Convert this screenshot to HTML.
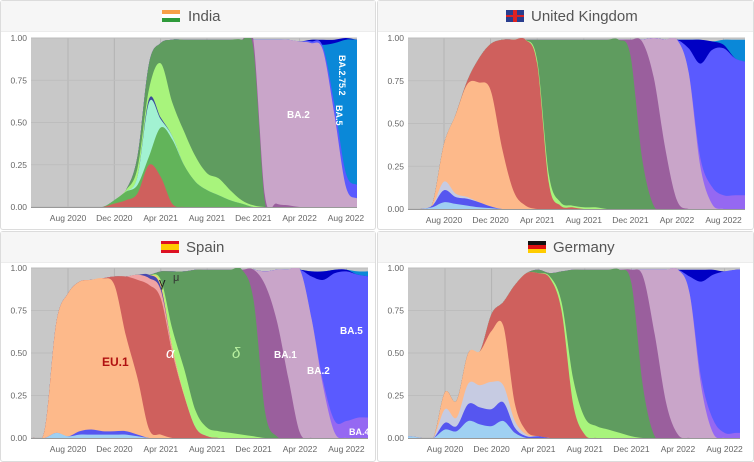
<!DOCTYPE html>
<html><head><meta charset="utf-8">
<style>
html,body{margin:0;padding:0;background:#fff;}
body{width:754px;height:462px;position:relative;overflow:hidden;font-family:"Liberation Sans",sans-serif;}
.card{position:absolute;background:#fff;border:1px solid #dcdcdc;border-radius:3px;box-sizing:border-box;}
.hdr{position:absolute;left:0;right:0;top:0;height:30px;background:#f6f6f6;border-bottom:1px solid #ececec;}
.ttl{position:absolute;top:7px;font-size:15px;color:#555;white-space:nowrap;}
.flag{position:absolute;top:9px;width:18px;height:12px;}
svg{position:absolute;left:0;top:0;}
</style></head>
<body>
<div class="card" style="left:0;top:0;width:376px;height:230px;">
 <div class="hdr">
  <div class="flag" style="left:161px;background:linear-gradient(#f7a047 0 33%,#fff 33% 66%,#2e9a3a 66%);"></div>
  <div class="ttl" style="left:187px;">India</div>
 </div>
</div>
<div class="card" style="left:377px;top:0;width:377px;height:230px;">
 <div class="hdr">
  <div class="flag" style="left:128px;background:linear-gradient(#2a3e8e 0 40%,#d22 40% 60%,#2a3e8e 60%);"><div style="position:absolute;left:7px;top:0;width:4px;height:12px;background:#d22;"></div></div>
  <div class="ttl" style="left:153px;">United Kingdom</div>
 </div>
</div>
<div class="card" style="left:0;top:231px;width:376px;height:231px;">
 <div class="hdr">
  <div class="flag" style="left:160px;background:linear-gradient(#d12 0 25%,#fc0 25% 75%,#d12 75%);"></div>
  <div class="ttl" style="left:185px;">Spain</div>
 </div>
</div>
<div class="card" style="left:377px;top:231px;width:377px;height:231px;">
 <div class="hdr">
  <div class="flag" style="left:150px;background:linear-gradient(#111 0 33%,#d11 33% 66%,#fc0 66%);"></div>
  <div class="ttl" style="left:175px;">Germany</div>
 </div>
</div>
<svg id="chart" width="754" height="462"></svg>
<script>
// months since Jan 2020
const months = [3,4,5,6,7,8,9,10,11,12,13,14,15,16,17,18,19,20,21,22,23,24,25,26,27,28,29,30,31,32,33];
const tickMonths = [7,11,15,19,23,27,31];
const tickLabels = ["Aug 2020","Dec 2020","Apr 2021","Aug 2021","Dec 2021","Apr 2022","Aug 2022"];
const yTicks = [0,0.25,0.5,0.75,1];
const yTickLabels = ["0.00","0.25","0.50","0.75","1.00"];

// India
const inRed   = [0,0,0,0,0,0,0,0,.02,.04,.08,.25,.18,.02,0,0,0,0,0,0,0,0,0,0,0,0,0,0,0,0,0];
const inKappa = [0,0,0,0,0,0,0,0,.02,.05,.05,.05,.29,.38,.25,.15,.1,.07,.04,.02,0,0,0,0,0,0,0,0,0,0,0];
const inMint  = [0,0,0,0,0,0,0,0,0,0,.05,.32,.05,.02,0,0,0,0,0,0,0,0,0,0,0,0,0,0,0,0,0];
const inNavy  = [0,0,0,0,0,0,0,0,0,0,0,.02,.01,0,0,0,0,0,0,0,0,0,0,0,0,0,0,0,0,0,0];
const inLG    = [0,0,0,0,0,0,0,0,0,.01,.05,.06,.32,.2,.2,.15,.1,.1,.06,.02,.01,0,0,0,0,0,0,0,0,0,0];
const inDelta = [0,0,0,0,0,0,0,0,0,0,.07,.15,.12,.37,.54,.69,.79,.82,.89,.95,.93,.03,0,0,0,0,0,0,0,0,0];
const inBA1   = [0,0,0,0,0,0,0,0,0,0,0,0,0,0,0,0,0,0,0,0,.05,.04,.02,.01,0,0,0,0,0,0,0];
const inBA2   = [0,0,0,0,0,0,0,0,0,0,0,0,0,0,0,0,0,0,0,0,0,.92,.97,.98,.98,.97,.93,.55,.12,.05,.03];
const inBA5   = [0,0,0,0,0,0,0,0,0,0,0,0,0,0,0,0,0,0,0,0,0,0,0,0,0,.01,.02,.06,.08,.08,.08];
const inBA275 = [0,0,0,0,0,0,0,0,0,0,0,0,0,0,0,0,0,0,0,0,0,0,0,0,0,0,.01,.36,.79,.86,.88];
const inDark  = [0,0,0,0,0,0,0,0,0,0,0,0,0,0,0,0,0,0,0,0,0,0,0,0,0,.01,.03,.02,.01,0,0];

// United Kingdom
const ukLB    = [0,0,0,.01,.04,.03,.02,.01,.005,0,0,0,0,0,0,0,0,0,0,0,0,0,0,0,0,0,0,0,0,0,0];
const ukMB    = [0,0,0,.01,.07,.04,.04,.03,.01,0,0,0,0,0,0,0,0,0,0,0,0,0,0,0,0,0,0,0,0,0,0];
const ukLGB   = [0,0,0,0,.05,.02,.01,0,0,0,0,0,0,0,0,0,0,0,0,0,0,0,0,0,0,0,0,0,0,0,0];
const ukPeach = [0,0,0,.01,.22,.46,.66,.7,.68,.35,.1,.02,0,0,0,0,0,0,0,0,0,0,0,0,0,0,0,0,0,0,0];
const ukRed   = [0,0,0,0,0,0,.02,.14,.27,.64,.89,.97,.85,.15,.02,.01,0,0,0,0,0,0,0,0,0,0,0,0,0,0,0];
const ukLG    = [0,0,0,0,0,0,0,0,0,0,0,0,.02,.05,.02,.01,.01,.01,0,0,0,0,0,0,0,0,0,0,0,0,0];
const ukDelta = [0,0,0,0,0,0,0,0,0,0,0,0,.12,.79,.95,.97,.98,.98,.99,.99,.9,.3,.02,0,0,0,0,0,0,0,0];
const ukBA1   = [0,0,0,0,0,0,0,0,0,0,0,0,0,0,0,0,0,0,0,0,.09,.68,.75,.35,.05,0,0,0,0,0,0];
const ukBA2   = [0,0,0,0,0,0,0,0,0,0,0,0,0,0,0,0,0,0,0,0,0,.01,.23,.64,.94,.8,.25,.03,0,0,0];
const ukBA4   = [0,0,0,0,0,0,0,0,0,0,0,0,0,0,0,0,0,0,0,0,0,0,0,0,0,0,.05,.1,.08,.08,.08];
const ukBA5   = [0,0,0,0,0,0,0,0,0,0,0,0,0,0,0,0,0,0,0,0,0,0,0,0,0,.14,.55,.8,.86,.8,.78];
const ukDark  = [0,0,0,0,0,0,0,0,0,0,0,0,0,0,0,0,0,0,0,0,0,0,0,0,0,.05,.14,.05,.02,0,0];
const ukBA275 = [0,0,0,0,0,0,0,0,0,0,0,0,0,0,0,0,0,0,0,0,0,0,0,0,0,0,0,0,.03,.11,.13];

// Spain
const esLB    = [0,0,0,.03,.01,.02,.02,.02,.02,.02,.01,0,0,0,0,0,0,0,0,0,0,0,0,0,0,0,0,0,0,0,0];
const esMB    = [0,0,0,0,0,.02,.03,.02,.02,.02,.01,0,0,0,0,0,0,0,0,0,0,0,0,0,0,0,0,0,0,0,0];
const esPeach = [0,0,.05,.65,.84,.88,.88,.9,.86,.56,.33,.05,.02,0,0,0,0,0,0,0,0,0,0,0,0,0,0,0,0,0,0];
const esRed   = [0,0,0,0,0,0,0,0,.05,.35,.58,.85,.8,.5,.25,.06,.01,0,0,0,0,0,0,0,0,0,0,0,0,0,0];
const esPink  = [0,0,0,0,0,0,0,0,0,0,.03,.04,.05,.02,0,0,0,0,0,0,0,0,0,0,0,0,0,0,0,0,0];
const esGamma = [0,0,0,0,0,0,0,0,0,0,0,.02,.02,0,0,0,0,0,0,0,0,0,0,0,0,0,0,0,0,0,0];
const esMu    = [0,0,0,0,0,0,0,0,0,0,0,0,.02,.02,.01,0,0,0,0,0,0,0,0,0,0,0,0,0,0,0,0];
const esLG    = [0,0,0,0,0,0,0,0,0,0,0,0,.02,.1,.15,.1,.05,.04,.03,.02,.01,0,0,0,0,0,0,0,0,0,0];
const esDelta = [0,0,0,0,0,0,0,0,0,0,0,0,.05,.34,.57,.83,.93,.95,.96,.97,.8,.15,.01,0,0,0,0,0,0,0,0];
const esBA1   = [0,0,0,0,0,0,0,0,0,0,0,0,0,0,0,0,0,0,0,0,.18,.75,.68,.35,.03,0,0,0,0,0,0];
const esBA2   = [0,0,0,0,0,0,0,0,0,0,0,0,0,0,0,0,0,0,0,0,0,.08,.3,.64,.96,.7,.3,.03,0,0,0];
const esBA4   = [0,0,0,0,0,0,0,0,0,0,0,0,0,0,0,0,0,0,0,0,0,0,0,0,0,0,.03,.07,.1,.12,.12];
const esBA5   = [0,0,0,0,0,0,0,0,0,0,0,0,0,0,0,0,0,0,0,0,0,0,0,0,0,.25,.6,.87,.88,.84,.83];
const esDark  = [0,0,0,0,0,0,0,0,0,0,0,0,0,0,0,0,0,0,0,0,0,0,0,0,0,.03,.05,.02,.01,0,0];
const esBA275 = [0,0,0,0,0,0,0,0,0,0,0,0,0,0,0,0,0,0,0,0,0,0,0,0,0,0,0,0,0,.02,.03];

// Germany
const deLB    = [0,.01,0,0,.05,.04,.1,.08,.07,.1,.03,0,0,0,0,0,0,0,0,0,0,0,0,0,0,0,0,0,0,0,0];
const deMB    = [0,0,0,0,.04,.03,.1,.1,.1,.11,.03,.01,.01,0,0,0,0,0,0,0,0,0,0,0,0,0,0,0,0,0,0];
const deLGB   = [0,0,0,0,.08,.05,.12,.13,.16,.1,.04,.01,0,0,0,0,0,0,0,0,0,0,0,0,0,0,0,0,0,0,0];
const dePeach = [0,0,0,0,.1,.1,.18,.2,.3,.35,.1,.02,0,0,0,0,0,0,0,0,0,0,0,0,0,0,0,0,0,0,0];
const deRed   = [0,0,0,0,0,0,0,0,.1,.14,.7,.93,.96,.94,.75,.2,.02,0,0,0,0,0,0,0,0,0,0,0,0,0,0];
const deLG    = [0,0,0,0,0,0,0,0,0,0,0,0,0,.01,.05,.15,.1,.07,.05,.03,.01,0,0,0,0,0,0,0,0,0,0];
const deDelta = [0,0,0,0,0,0,0,0,0,0,0,0,.02,.02,.18,.64,.87,.92,.94,.96,.9,.3,.01,0,0,0,0,0,0,0,0];
const deBA1   = [0,0,0,0,0,0,0,0,0,0,0,0,0,0,0,0,0,0,0,0,.08,.65,.6,.2,.02,0,0,0,0,0,0];
const deBA2   = [0,0,0,0,0,0,0,0,0,0,0,0,0,0,0,0,0,0,0,0,0,.04,.38,.79,.97,.85,.3,.03,0,0,0];
const deBA4   = [0,0,0,0,0,0,0,0,0,0,0,0,0,0,0,0,0,0,0,0,0,0,0,0,0,0,.05,.08,.03,.03,.03];
const deBA5   = [0,0,0,0,0,0,0,0,0,0,0,0,0,0,0,0,0,0,0,0,0,0,0,0,0,.1,.57,.85,.95,.96,.96];
const deDark  = [0,0,0,0,0,0,0,0,0,0,0,0,0,0,0,0,0,0,0,0,0,0,0,0,0,.04,.07,.03,0,0,0];

const C = {red:"#cf605d",kappa:"#62b45a",mint:"#a2f2d2",navy:"#3a4a9a",lg:"#a8f47c",delta:"#5f9c5f",
  ba1:"#9a5f9d",ba2:"#c9a5c9",ba4:"#9568f2",ba5:"#5a5aff",dark:"#0000c4",ba275:"#0a88d8",
  lb:"#9fd0f2",mb:"#5656f0",lgb:"#c6cbe2",peach:"#fdb98a",pink:"#f1a3a3",gamma:"#4848b0",mu:"#f0d070"};

const panels = [
 {key:"india", L:31,R:357,T:38,B:207, xAug:68, step:11.58,
  series:[["red",inRed],["kappa",inKappa],["mint",inMint],["navy",inNavy],["lg",inLG],["delta",inDelta],["ba1",inBA1],["ba2",inBA2],["ba5",inBA5],["ba275",inBA275],["dark",inDark]]},
 {key:"uk", L:408,R:745,T:38,B:209, xAug:444, step:11.65,
  series:[["lb",ukLB],["mb",ukMB],["lgb",ukLGB],["peach",ukPeach],["red",ukRed],["lg",ukLG],["delta",ukDelta],["ba1",ukBA1],["ba2",ukBA2],["ba4",ukBA4],["ba5",ukBA5],["dark",ukDark],["ba275",ukBA275]]},
 {key:"spain", L:31,R:368,T:268,B:438, xAug:68, step:11.6,
  series:[["lb",esLB],["mb",esMB],["peach",esPeach],["red",esRed],["pink",esPink],["gamma",esGamma],["mu",esMu],["lg",esLG],["delta",esDelta],["ba1",esBA1],["ba2",esBA2],["ba4",esBA4],["ba5",esBA5],["dark",esDark],["ba275",esBA275]]},
 {key:"germany", L:408,R:740,T:268,B:438, xAug:445, step:11.65,
  series:[["lb",deLB],["mb",deMB],["lgb",deLGB],["peach",dePeach],["red",deRed],["lg",deLG],["delta",deDelta],["ba1",deBA1],["ba2",deBA2],["ba4",deBA4],["ba5",deBA5],["dark",deDark]]}
];

const NS="http://www.w3.org/2000/svg";
const svg=document.getElementById("chart");
function mk(tag,attrs,parent){const e=document.createElementNS(NS,tag);for(const k in attrs)e.setAttribute(k,attrs[k]);(parent||svg).appendChild(e);return e;}
function spline(pts){
  let d="";
  for(let i=0;i<pts.length-1;i++){
    const p0=pts[Math.max(0,i-1)],p1=pts[i],p2=pts[i+1],p3=pts[Math.min(pts.length-1,i+2)];
    const c1=[p1[0]+(p2[0]-p0[0])/6,p1[1]+(p2[1]-p0[1])/6];
    const c2=[p2[0]-(p3[0]-p1[0])/6,p2[1]-(p3[1]-p1[1])/6];
    d+=` C${c1[0].toFixed(1)},${c1[1].toFixed(1)} ${c2[0].toFixed(1)},${c2[1].toFixed(1)} ${p2[0].toFixed(1)},${p2[1].toFixed(1)}`;
  }
  return d;
}
panels.forEach(p=>{
  const x=t=>p.xAug+(t-7)*p.step;
  const y=v=>p.B-v*(p.B-p.T);
  const g=mk("g",{});
  
  
  const cp=mk("clipPath",{id:"clip-"+p.key},g);
  mk("rect",{x:p.L,y:p.T,width:p.R-p.L,height:p.B-p.T},cp);
  const bg=mk("rect",{x:p.L,y:p.T,width:p.R-p.L,height:p.B-p.T,fill:"#c8c8c8"},g);
  
  
  tickMonths.forEach(t=>{
    const gl=mk("line",{x1:x(t),x2:x(t),y1:p.T,y2:p.B,stroke:"#b3b3b3","stroke-width":1},g);
    
    
  });
  yTicks.forEach(v=>{
    const gl=mk("line",{x1:p.L,x2:p.R,y1:y(v),y2:y(v),stroke:"#bdbdbd","stroke-width":1},g);
    
    
  });
  const ag=mk("g",{"clip-path":`url(#clip-${p.key})`},g);
  // cumulative tops per layer
  const cum=months.map(()=>0);
  const tops=p.series.map(([name,vals])=>{vals.forEach((v,i)=>cum[i]+=v);return cum.slice();});
  // draw from top-most layer down to bottom, each filled to baseline (no seams)
  for(let k=p.series.length-1;k>=0;k--){
    const [name,vals]=p.series[k];
    if(vals.every(v=>v===0))continue;
    const up=months.map((t,i)=>[x(t),y(Math.min(1,tops[k][i]))]);
    const d=`M${up[0][0]},${p.B+2} L${up[0][0]},${up[0][1]}`+spline(up)+` L${up[up.length-1][0]},${p.B+2}Z`;
    const a=mk("path",{d:d,fill:C[name]},ag);
    
    
  }
  mk("line",{x1:p.L,x2:p.R,y1:p.B+0.5,y2:p.B+0.5,stroke:"#999","stroke-width":1},g);
  yTicks.forEach((v,i)=>{
    const tl=mk("text",{x:p.L-4,y:y(v)+3,"text-anchor":"end","font-size":"8.5",fill:"#666"},g);
    tl.textContent=yTickLabels[i];
    
    
  });
  tickMonths.forEach((t,i)=>{
    const tl=mk("text",{x:x(t),y:p.B+14,"text-anchor":"middle","font-size":"8.5",fill:"#666"},g);
    tl.textContent=tickLabels[i];
    
    
  });
});
const labels=[
 ["BA.2",287,118,0,"#fff","bold","normal",10],
 ["BA.2.75.2",339,55,90,"#fff","bold","normal",9],
 ["BA.5",336,105,90,"#fff","bold","normal",9],
 ["EU.1",102,366,0,"#b01010","bold","normal",12],
 ["α",166,358,0,"#fff","normal","italic",15],
 ["δ",232,358,0,"#b8f0a0","normal","italic",15],
 ["BA.1",274,358,0,"#fff","bold","normal",10],
 ["BA.2",307,374,0,"#fff","bold","normal",10],
 ["BA.5",340,334,0,"#fff","bold","normal",10],
 ["BA.4",349,435,0,"#fff","bold","normal",9],
 ["γ",159,287,0,"#222","normal","normal",13],
 ["μ",173,281,0,"#333","normal","normal",11]
];
labels.forEach(([s,lx,ly,rot,col,w,st,fs])=>{
  const t=mk("text",{x:lx,y:ly,fill:col,"font-weight":w,"font-style":st,"font-size":fs,transform:rot?`rotate(${rot} ${lx} ${ly})`:""});
  t.textContent=s;
  
  
});
</script>
</body></html>
